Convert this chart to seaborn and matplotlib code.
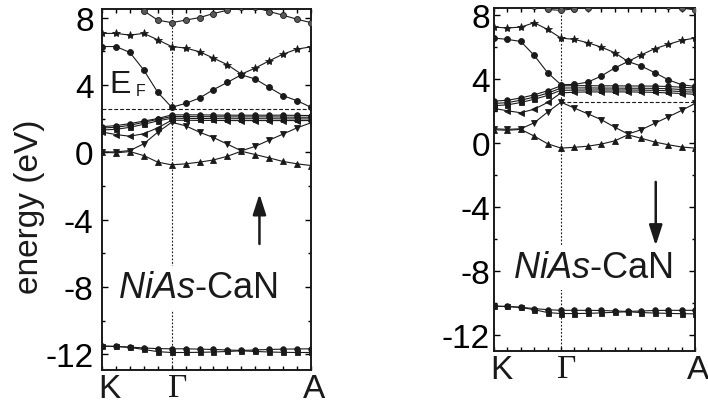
import numpy as np
import pandas as pd
import matplotlib
matplotlib.use("Agg")
import matplotlib.pyplot as plt
import seaborn as sns

sns.set_theme(style="ticks")
plt.rcParams["font.family"] = ["Liberation Sans", "DejaVu Sans"]
plt.rcParams["mathtext.fontset"] = "custom"
plt.rcParams["mathtext.it"] = "Liberation Sans:italic"
plt.rcParams["mathtext.rm"] = "Liberation Sans"
for key in ["text.color", "axes.labelcolor", "xtick.color", "ytick.color", "axes.edgecolor"]:
    plt.rcParams[key] = "black"

# k-path: K -> Gamma (5 steps) -> A (10 steps)
k_points = list(range(16))
k_gamma = 5
k_labels = ["K", "Γ", "A"]
y_ticks = [-12, -8, -4, 0, 4, 8]
fermi_level = 2.55

# spin-up bands (eV)
up_top = [9.6, 9.3, 8.9, 8.4, 7.85, 7.7, 7.85, 8.0, 8.24, 8.44, 8.6, 8.6, 8.36, 8.14, 7.9, 7.7]
up_star = [7.06, 7.06, 6.96, 7.06, 6.68, 6.28, 6.19, 5.97, 5.59, 5.20, 4.64, 5.00, 5.43, 5.83, 6.13, 6.26]
up_circ = [6.28, 6.28, 5.93, 4.88, 3.56, 2.67, 2.90, 3.22, 3.72, 4.15, 4.60, 4.35, 3.85, 3.36, 3.06, 2.67]
up_d1 = [1.52, 1.58, 1.70, 1.85, 2.00, 2.22, 2.22, 2.22, 2.21, 2.20, 2.20, 2.20, 2.20, 2.20, 2.19, 2.18]
up_d2 = [1.44, 1.48, 1.60, 1.78, 1.95, 2.12, 2.12, 2.11, 2.11, 2.10, 2.10, 2.10, 2.10, 2.09, 2.08, 2.08]
up_d3 = [1.32, 1.36, 1.48, 1.66, 1.86, 2.02, 2.01, 2.00, 2.00, 1.99, 1.99, 1.99, 1.99, 1.98, 1.98, 1.98]
up_d4 = [1.20, 1.05, 0.95, 1.10, 1.45, 1.90, 1.90, 1.89, 1.89, 1.88, 1.88, 1.88, 1.88, 1.88, 1.88, 1.88]
up_vband = [0.02, 0.02, 0.10, 0.50, 1.19, 1.78, 1.57, 1.19, 0.87, 0.48, 0.08, 0.35, 0.72, 1.08, 1.45, 1.75]
up_lband = [0.00, -0.04, 0.04, -0.20, -0.59, -0.75, -0.69, -0.59, -0.46, -0.24, 0.06, -0.14, -0.34, -0.55, -0.69, -0.79]
up_low1 = [-11.52, -11.54, -11.58, -11.63, -11.67, -11.68, -11.68, -11.70, -11.72, -11.75, -11.78, -11.75, -11.72, -11.70, -11.69, -11.68]
up_low2 = [-11.52, -11.54, -11.60, -11.72, -11.85, -11.90, -11.90, -11.89, -11.87, -11.84, -11.80, -11.84, -11.87, -11.89, -11.90, -11.90]

# spin-down bands (eV)
dn_top = [9.3, 9.0, 8.7, 8.55, 8.33, 8.27, 8.38, 8.44, 8.7, 8.9, 9.0, 8.9, 8.7, 8.55, 8.42, 8.3]
dn_star = [7.23, 7.17, 7.23, 7.50, 7.08, 6.54, 6.46, 6.25, 5.98, 5.63, 5.08, 5.50, 5.88, 6.15, 6.40, 6.54]
dn_circ = [6.54, 6.46, 6.33, 5.46, 4.38, 3.63, 3.65, 3.79, 4.17, 4.67, 5.08, 4.79, 4.38, 3.94, 3.63, 3.52]
dn_d1 = [2.60, 2.66, 2.80, 3.00, 3.25, 3.56, 3.57, 3.57, 3.56, 3.56, 3.55, 3.55, 3.54, 3.52, 3.47, 3.43]
dn_d2 = [2.46, 2.51, 2.66, 2.86, 3.10, 3.42, 3.43, 3.43, 3.42, 3.42, 3.41, 3.41, 3.40, 3.38, 3.33, 3.29]
dn_d3 = [2.32, 2.37, 2.52, 2.72, 2.96, 3.28, 3.29, 3.30, 3.30, 3.30, 3.30, 3.29, 3.28, 3.25, 3.20, 3.16]
dn_d4 = [2.15, 2.00, 1.88, 2.10, 2.52, 3.12, 3.16, 3.18, 3.18, 3.18, 3.18, 3.17, 3.15, 3.12, 3.08, 3.03]
dn_vband = [0.88, 0.84, 0.88, 1.25, 1.92, 2.54, 2.17, 1.81, 1.45, 0.98, 0.55, 0.82, 1.22, 1.62, 2.02, 2.46]
dn_lband = [0.82, 0.78, 0.84, 0.42, -0.06, -0.33, -0.28, -0.21, -0.08, 0.12, 0.50, 0.28, 0.05, -0.12, -0.26, -0.33]
dn_low1 = [-10.20, -10.22, -10.27, -10.35, -10.42, -10.46, -10.46, -10.46, -10.47, -10.50, -10.53, -10.50, -10.47, -10.46, -10.46, -10.46]
dn_low2 = [-10.20, -10.22, -10.28, -10.42, -10.60, -10.66, -10.66, -10.65, -10.62, -10.58, -10.55, -10.60, -10.63, -10.65, -10.67, -10.68]

# marker style per band: (marker, size, face colour)
styles = {
    "top": ("o", 4.3, "0.35"),
    "star": ("*", 6.0, "k"),
    "circ": ("o", 4.3, "k"),
    "d1": ("o", 4.0, "k"),
    "d2": ("o", 4.0, "k"),
    "d3": ("s", 3.6, "k"),
    "d4": ("<", 4.3, "k"),
    "vband": ("v", 4.6, "k"),
    "lband": ("^", 4.6, "k"),
    "low1": ("o", 4.0, "k"),
    "low2": ("s", 3.6, "k"),
}

spin_up = {"top": up_top, "star": up_star, "circ": up_circ, "d1": up_d1, "d2": up_d2,
           "d3": up_d3, "d4": up_d4, "vband": up_vband, "lband": up_lband,
           "low1": up_low1, "low2": up_low2}
spin_dn = {"top": dn_top, "star": dn_star, "circ": dn_circ, "d1": dn_d1, "d2": dn_d2,
           "d3": dn_d3, "d4": dn_d4, "vband": dn_vband, "lband": dn_lband,
           "low1": dn_low1, "low2": dn_low2}

fig = plt.figure(figsize=(7.08, 4.14), dpi=100)
ax_up = fig.add_axes([102 / 708, 43 / 414, 209 / 708, 361 / 414])
ax_dn = fig.add_axes([494 / 708, 62 / 414, 201 / 708, 343 / 414])


def draw_panel(ax, bands, ylim, fermi_from, label_pad):
    df = pd.DataFrame([
        {"k": kk, "E": e, "band": name}
        for name, vals in bands.items() for kk, e in zip(k_points, vals)
    ])
    for name in bands:
        m, ms, fc = styles[name]
        sub = df[df["band"] == name]
        sns.lineplot(data=sub, x="k", y="E", ax=ax, color="k", lw=0.8,
                     marker=m, markersize=ms, markerfacecolor=fc,
                     markeredgecolor="k", markeredgewidth=0.6,
                     estimator=None, sort=False, legend=False, zorder=3)
    ax.set_xlim(k_points[0], k_points[-1])
    ax.set_ylim(*ylim)
    ax.axvline(k_gamma, color="k", lw=0.8, ls=(0, (1.6, 1.6)), zorder=1)
    ax.plot([fermi_from, k_points[-1]], [fermi_level, fermi_level], color="k",
            lw=0.8, ls=(0, (3.5, 1.8)), zorder=1)
    ax.set_xlabel("")
    ax.set_ylabel("")
    ax.set_yticks(y_ticks)
    ax.set_yticklabels([str(t) for t in y_ticks])
    ax.set_yticks([-10, -6, -2, 2, 6], minor=True)
    ax.set_xticks(k_points)
    ax.set_xticklabels([])
    ax.tick_params(axis="y", which="major", direction="in", length=4, width=1,
                   right=True, labelsize=24, pad=label_pad)
    ax.tick_params(axis="y", which="minor", direction="in", length=2.5, width=1,
                   right=True)
    ax.tick_params(axis="x", which="major", direction="in", length=3, width=1,
                   top=True)
    for sp in ax.spines.values():
        sp.set_linewidth(1.4)
        sp.set_color("k")
    for xk, lab in zip([0.55, k_gamma + 0.4, 15.2], k_labels):
        fam = ["Liberation Serif"] if lab == "Γ" else ["Liberation Sans"]
        ax.annotate(lab, xy=(xk, 0), xycoords=("data", "axes fraction"),
                    xytext=(0, -2), textcoords="offset points",
                    ha="center", va="top", fontsize=24, family=fam,
                    color="k", annotation_clip=False)


draw_panel(ax_up, spin_up, (-12.94, 8.51), 0, 6)
draw_panel(ax_dn, spin_dn, (-13.0, 8.42), k_gamma, 3)

ax_up.text(-0.345, 0.456, "energy (eV)", rotation=90, ha="center", va="center",
           fontsize=24, color="k", transform=ax_up.transAxes)

# Fermi level label
ax_up.text(0.5, 3.56, "E", fontsize=23, ha="left", va="baseline", color="k", zorder=5)
ax_up.text(2.44, 3.40, "F", fontsize=11.5, ha="left", va="baseline", color="k", zorder=5)

# structure labels
box = dict(boxstyle="square,pad=0.12", fc="white", ec="none")
ax_up.text(1.15, -8.62, r"$\mathit{NiAs}$-CaN", fontsize=26, ha="left",
           va="baseline", color="k", bbox=box, zorder=4)
ax_dn.text(1.42, -8.39, r"$\mathit{NiAs}$-CaN", fontsize=26, ha="left",
           va="baseline", color="k", bbox=box, zorder=4)

# spin direction arrows
arrow = dict(arrowstyle="-|>,head_length=0.62,head_width=0.2", lw=1.8,
             color="k", shrinkA=0, shrinkB=0, mutation_scale=20)
ax_up.annotate("", xy=(11.3, -2.48), xytext=(11.3, -5.45), arrowprops=arrow,
               zorder=6)
ax_dn.annotate("", xy=(12.07, -6.42), xytext=(12.07, -2.44), arrowprops=arrow,
               zorder=6)

fig.savefig("out.png", dpi=100)
